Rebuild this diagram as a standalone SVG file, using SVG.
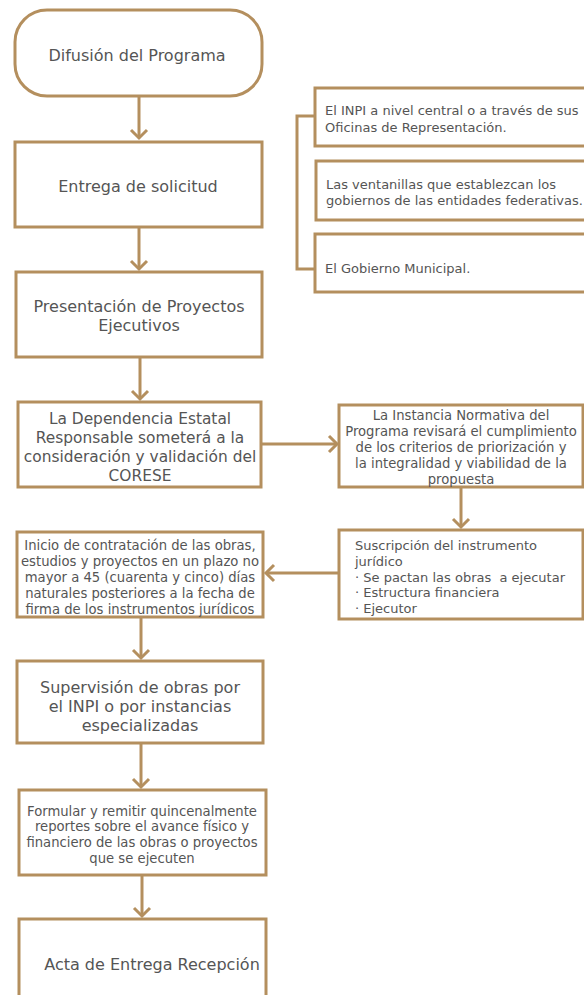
<svg xmlns="http://www.w3.org/2000/svg" width="584" height="995" viewBox="0 0 584 995">
<defs>
<style>
.box{fill:#fff;stroke:#b48f5e;stroke-width:3}
.ln{fill:none;stroke:#b48f5e;stroke-width:3}
text{font-family:"DejaVu Sans","Liberation Sans",sans-serif;fill:#555;}
.big{font-size:16px;text-anchor:middle}
.mid{font-size:15.4px;text-anchor:middle}
.sm{font-size:13.2px;text-anchor:middle}
.sl{font-size:13px}
</style>
<marker id="ah" viewBox="-10 -10 20 20" refX="0" refY="0" markerWidth="20" markerHeight="20" markerUnits="userSpaceOnUse" orient="auto">
<path d="M-8,-8 L0,0 L-8,8" fill="none" stroke="#b48f5e" stroke-width="3"/>
</marker>
</defs>
<rect width="584" height="995" fill="#fff"/>
<g id="connectors">
<line class="ln" x1="139" y1="96" x2="139" y2="138" marker-end="url(#ah)"/>
<line class="ln" x1="139" y1="227" x2="139" y2="269" marker-end="url(#ah)"/>
<line class="ln" x1="140" y1="357" x2="140" y2="399" marker-end="url(#ah)"/>
<line class="ln" x1="261" y1="444" x2="337" y2="444" marker-end="url(#ah)"/>
<line class="ln" x1="461" y1="487" x2="461" y2="527" marker-end="url(#ah)"/>
<line class="ln" x1="339" y1="573" x2="266" y2="573" marker-end="url(#ah)"/>
<line class="ln" x1="141" y1="617" x2="141" y2="658" marker-end="url(#ah)"/>
<line class="ln" x1="141" y1="743" x2="141" y2="787" marker-end="url(#ah)"/>
<line class="ln" x1="142" y1="875" x2="142" y2="916" marker-end="url(#ah)"/>
<path class="ln" d="M315,116 H297 V269 H315"/>
</g>
<g id="n1"><rect class="box" x="15" y="10" width="247" height="86" rx="32"/><text class="big" x="137" y="61">Difusión del Programa</text></g>
<g id="n2"><rect class="box" x="15" y="142" width="247" height="85"/><text class="big" x="138" y="192">Entrega de solicitud</text></g>
<g id="n3"><rect class="box" x="16" y="272" width="246" height="85"/><text class="big" x="139" y="312">Presentación de Proyectos</text><text class="big" x="139" y="331">Ejecutivos</text></g>
<g id="n4"><rect class="box" x="18" y="402" width="243" height="85"/><text class="mid" x="140" y="424">La Dependencia Estatal</text><text class="mid" x="140" y="443">Responsable someterá a la</text><text class="mid" x="140" y="462">consideración y validación del</text><text class="mid" x="140" y="481">CORESE</text></g>
<g id="n5"><rect class="box" x="339" y="405" width="244" height="82"/><text class="sm" x="461" y="420">La Instancia Normativa del</text><text class="sm" x="461" y="436">Programa revisará el cumplimiento</text><text class="sm" x="461" y="452">de los criterios de priorización y</text><text class="sm" x="461" y="468">la integralidad y viabilidad de la</text><text class="sm" x="461" y="484">propuesta</text></g>
<g id="n6"><rect class="box" x="339" y="530" width="244" height="89"/><text class="sl" x="355" y="550">Suscripción del instrumento</text><text class="sl" x="355" y="566">jurídico</text><text class="sl" x="355" y="582">· Se pactan las obras&#160; a ejecutar</text><text class="sl" x="355" y="597">· Estructura financiera</text><text class="sl" x="355" y="613">· Ejecutor</text></g>
<g id="n7"><rect class="box" x="17" y="532" width="246" height="85"/><text class="sm" x="140" y="550">Inicio de contratación de las obras,</text><text class="sm" x="140" y="566">estudios y proyectos en un plazo no</text><text class="sm" x="140" y="582">mayor a 45 (cuarenta y cinco) días</text><text class="sm" x="140" y="598">naturales posteriores a la fecha de</text><text class="sm" x="140" y="614">firma de los instrumentos jurídicos</text></g>
<g id="n8"><rect class="box" x="17" y="661" width="246" height="82"/><text class="big" x="140" y="693">Supervisión de obras por</text><text class="big" x="140" y="712">el INPI o por instancias</text><text class="big" x="140" y="731">especializadas</text></g>
<g id="n9"><rect class="box" x="19" y="790" width="247" height="85"/><text class="sm" x="142" y="816">Formular y remitir quincenalmente</text><text class="sm" x="142" y="831">reportes sobre el avance físico y</text><text class="sm" x="142" y="847">financiero de las obras o proyectos</text><text class="sm" x="142" y="863">que se ejecuten</text></g>
<g id="n10"><rect class="box" x="19" y="919" width="247" height="90"/><text class="big" x="152" y="970">Acta de Entrega Recepción</text></g>
<g id="r1"><rect class="box" x="315" y="88" width="280" height="58"/><text class="sl" x="325" y="115">El INPI a nivel central o a través de sus</text><text class="sl" x="325" y="132">Oficinas de Representación.</text></g>
<g id="r2"><rect class="box" x="316" y="161" width="280" height="59"/><text class="sl" x="326" y="189">Las ventanillas que establezcan los</text><text class="sl" x="326" y="205">gobiernos de las entidades federativas.</text></g>
<g id="r3"><rect class="box" x="315" y="234" width="280" height="58"/><text class="sl" x="325" y="273">El Gobierno Municipal.</text></g>
</svg>
